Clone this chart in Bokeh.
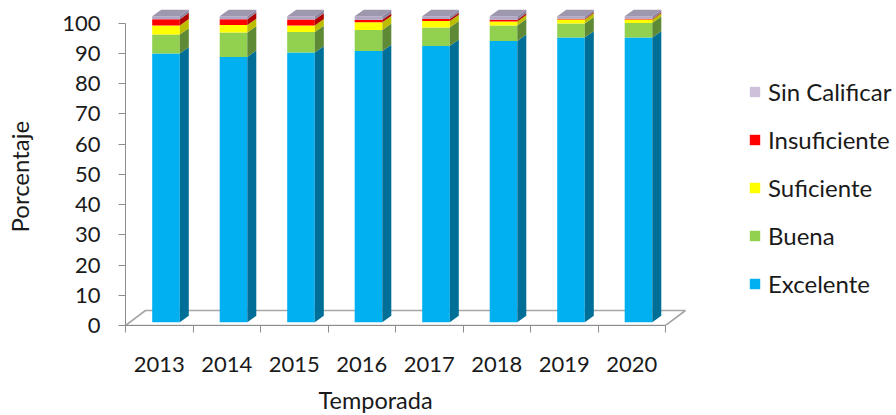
from bokeh.plotting import figure
from bokeh.models import Range1d, LinearAxis, FixedTicker, Legend, LegendItem, Title
from bokeh.embed import file_html
from bokeh.resources import INLINE

# ---- data (percent per season) ----
years = ["2013", "2014", "2015", "2016", "2017", "2018", "2019", "2020"]
excelente = [87.8, 86.7, 88.1, 88.6, 90.3, 91.9, 93.0, 93.0]
buena = [6.2, 8.0, 6.7, 6.9, 6.0, 5.1, 4.6, 4.8]
suficiente = [3.0, 2.4, 2.2, 2.5, 2.1, 1.3, 1.3, 1.1]
insuficiente = [2.0, 1.9, 1.9, 0.8, 0.65, 0.55, 0.3, 0.3]
sin_calificar = [1.0, 1.0, 1.1, 1.2, 0.95, 1.15, 0.8, 0.8]
series_names = ["Excelente", "Buena", "Suficiente", "Insuficiente", "Sin Calificar"]
y_ticks = [0, 10, 20, 30, 40, 50, 60, 70, 80, 90, 100]

# ---- styles ----
front_col = {"Excelente": "#00B0F0", "Buena": "#92D050", "Suficiente": "#FFFF00",
             "Insuficiente": "#FF0000", "Sin Calificar": "#B0A7C4"}
side_col = {"Excelente": "#006F98", "Buena": "#5E8A35", "Suficiente": "#BDBD00",
            "Insuficiente": "#B00000", "Sin Calificar": "#8C84A0"}
legend_col = {"Excelente": "#00B0F0", "Buena": "#92D050", "Suficiente": "#FFFF00",
              "Insuficiente": "#FF0000", "Sin Calificar": "#CCC0DA"}
top_col = "#9E97AD"
FONT = "Lato"
TXT = "#1a1a1a"
AX = "#8c8c8c"
NBSP = "\u00a0"

W, H = 896, 415
ML, MB = 125, 90
frame_w, frame_h = W - ML, H - MB
px_cat = 67.5          # px per category band
px_y = 3.023           # px per percent on axis
px_bar = 3.06          # px per percent for bar faces
bar_zero_px = 3.3      # bar base above floor front

p = figure(width=W, height=H, output_backend="svg", toolbar_location=None,
           x_range=Range1d(0, frame_w / px_cat), y_range=Range1d(0, frame_h / px_y),
           min_border_left=ML, min_border_bottom=MB, min_border_top=0, min_border_right=0,
           x_axis_type=None, y_axis_type=None)
p.outline_line_color = None
p.grid.visible = False
bstart = -bar_zero_px / px_bar
p.extra_y_ranges = {"bar": Range1d(bstart, bstart + frame_h / px_bar)}

n = len(years)
# floor (depth box)
fdx, fdy = 20 / px_cat, 15 / px_y
p.patch([0, n, n + fdx, fdx], [0, 0, fdy, fdy], fill_color=None, line_color="#a6a6a6", line_width=1.6)

# bars
vals = {"Excelente": excelente, "Buena": buena, "Suficiente": suficiente,
        "Insuficiente": insuficiente, "Sin Calificar": sin_calificar}
off, bw = 26.7 / px_cat, 27.6 / px_cat
ddx, ddy = 9 / px_cat, 6.4 / px_bar
cum = [0.0] * n
xl = [i + off for i in range(n)]
xr = [x + bw for x in xl]
for name in series_names:
    v = vals[name]
    bottoms = cum[:]
    tops = [b + x for b, x in zip(bottoms, v)]
    p.quad(left=xl, right=xr, bottom=bottoms, top=tops, y_range_name="bar",
           fill_color=front_col[name], line_color=None)
    p.patches([[a, a + ddx, a + ddx, a] for a in xr],
              [[b, b + ddy, t + ddy, t] for b, t in zip(bottoms, tops)],
              y_range_name="bar", fill_color=side_col[name], line_color=None)
    cum = tops
# top faces
p.patches([[a, a + ddx, b + ddx, b] for a, b in zip(xl, xr)],
          [[t, t + ddy, t + ddy, t] for t in cum], y_range_name="bar",
          fill_color=top_col, line_color=None)

# axes (a blank axis label acts as a spacer before the side title)
yax = LinearAxis(ticker=FixedTicker(ticks=y_ticks), bounds=(0, 100), axis_label=NBSP)
yax.axis_line_color = AX
yax.major_tick_line_color = AX
yax.major_tick_out = 7
yax.major_tick_in = 0
yax.minor_tick_line_color = None
yax.major_label_standoff = 18
yax.major_label_text_font = FONT
yax.major_label_text_font_size = "22px"
yax.major_label_text_color = TXT
yax.axis_label_text_font_size = "10px"
yax.axis_label_standoff = 10
p.add_layout(yax, "left")

centers = [i + 0.5 for i in range(n)]
xax = LinearAxis(ticker=FixedTicker(ticks=centers, minor_ticks=list(range(n + 1))), bounds=(0, n),
                 axis_label=NBSP)
xax.major_label_overrides = {c: y for c, y in zip(centers, years)}
xax.axis_line_color = AX
xax.major_tick_line_color = None
xax.major_tick_out = 0
xax.major_tick_in = 0
xax.minor_tick_line_color = AX
xax.minor_tick_out = 7
xax.minor_tick_in = 0
xax.major_label_standoff = 24
xax.major_label_text_font = FONT
xax.major_label_text_font_size = "22px"
xax.major_label_text_color = TXT
xax.axis_label_text_font_size = "6px"
xax.axis_label_standoff = 2
p.add_layout(xax, "below")

# axis titles as side-panel titles
p.add_layout(Title(text="Porcentaje", align="left", offset=93, standoff=0, vertical_align="top",
                   text_font=FONT, text_font_size="24px", text_font_style="normal",
                   text_color=TXT), "left")
p.add_layout(Title(text="Temporada", align="left", offset=193, standoff=0, vertical_align="top",
                   text_font=FONT, text_font_size="23.5px", text_font_style="normal",
                   text_color=TXT), "below")

# legend (proxy renderers, drawn nowhere in the plot)
nan = float("nan")
items = []
for name in reversed(series_names):
    r = p.quad(left=[nan], right=[nan], bottom=[nan], top=[nan], fill_color=legend_col[name], line_color=None)
    items.append(LegendItem(label=name, renderers=[r]))
leg = Legend(items=items, location=(748 - ML, 27), glyph_width=13, glyph_height=13,
             label_text_font=FONT, label_text_font_size="24px", label_text_color=TXT,
             label_standoff=7, spacing=19, padding=0, margin=0,
             border_line_color=None, background_fill_alpha=0)
p.add_layout(leg)

open("out.html", "w").write(file_html(p, INLINE))
